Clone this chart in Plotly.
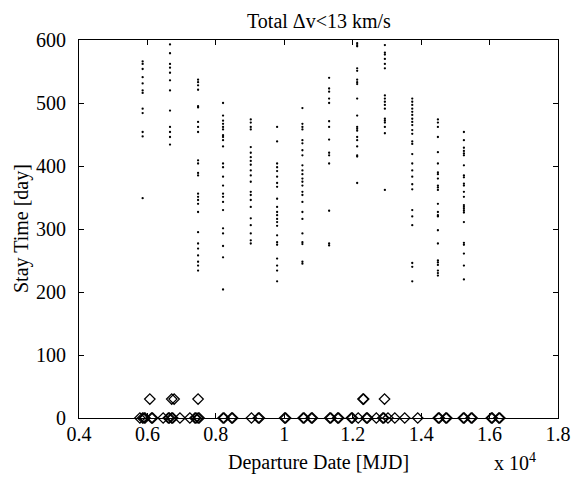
import plotly.graph_objects as go

# ---- data (departure date in units of 1e4 MJD, stay time in days) ----
col_x = [0.586, 0.666, 0.748, 0.821, 0.902, 0.979, 1.053, 1.131, 1.213, 1.294, 1.374, 1.449, 1.525]

col_stay = [
    [566, 562, 554, 541, 531, 520, 516, 491, 484, 454, 447, 349],
    [593, 579, 562, 556, 548, 536, 520, 488, 462, 454, 446, 434],
    [537, 533, 528, 521, 495, 493, 470, 462, 454, 409, 404, 389, 385, 356, 351, 346, 340,
     327, 295, 277, 269, 258, 248, 242, 234],
    [500, 480, 472, 467, 462, 458, 449, 446, 441, 431, 404, 398, 383, 369, 356, 351, 343,
     330, 301, 293, 273, 255, 204],
    [474, 469, 462, 458, 430, 421, 414, 408, 402, 393, 385, 375, 359, 354, 346, 335, 317,
     306, 293, 282, 277],
    [462, 439, 404, 398, 392, 383, 373, 367, 348, 335, 327, 322, 316, 311, 305, 290, 279,
     275, 253, 242, 234, 217],
    [492, 467, 462, 458, 441, 436, 425, 417, 401, 393, 387, 380, 375, 369, 359, 354, 343,
     327, 316, 293, 279, 276, 248, 245],
    [540, 523, 518, 507, 500, 471, 462, 442, 421, 417, 404, 329, 277, 274],
    [595, 592, 590, 555, 551, 537, 533, 530, 507, 480, 462, 459, 456, 446, 441, 431, 417,
     415, 373],
    [592, 580, 577, 570, 562, 555, 512, 507, 502, 497, 491, 475, 472, 469, 462, 452, 362],
    [507, 502, 497, 491, 486, 481, 475, 470, 465, 457, 451, 439, 435, 419, 404, 393, 383,
     371, 363, 330, 320, 306, 246, 240, 217],
    [474, 469, 462, 446, 422, 404, 390, 387, 380, 369, 366, 362, 340, 327, 322, 320, 298,
     277, 250, 247, 243, 234, 230, 226],
    [454, 441, 429, 424, 420, 417, 401, 385, 382, 372, 369, 359, 351, 338, 335, 332, 329,
     326, 311, 278, 275, 261, 242, 220],
]

# low-stay solutions (diamonds)
diam0_x = [0.578, 0.586, 0.590, 0.593, 0.612, 0.615, 0.646, 0.661, 0.664, 0.671, 0.674,
           0.695, 0.724, 0.739, 0.742, 0.748, 0.751, 0.821, 0.824, 0.846, 0.849, 0.904,
           0.924, 0.927, 1.001, 1.004, 1.055, 1.058, 1.079, 1.082, 1.133, 1.136, 1.156,
           1.159, 1.196, 1.199, 1.216, 1.240, 1.243, 1.269, 1.288, 1.291, 1.303, 1.323,
           1.352, 1.390, 1.450, 1.453, 1.472, 1.475, 1.523, 1.526, 1.546, 1.549, 1.605,
           1.608, 1.627, 1.630]
diam30_x = [0.607, 0.671, 0.678, 0.748, 1.230, 1.232, 1.293]
diam30_y = [30, 30, 30, 30, 30, 30, 30]

x_ticks = [0.4, 0.6, 0.8, 1.0, 1.2, 1.4, 1.6, 1.8]
x_tick_text = ["0.4", "0.6", "0.8", "1", "1.2", "1.4", "1.6", "1.8"]
y_ticks = [0, 100, 200, 300, 400, 500, 600]

dots_x, dots_y = [], []
for cx, ys in zip(col_x, col_stay):
    dots_x += [cx] * len(ys)
    dots_y += ys

font_family = "Liberation Serif, Times New Roman, serif"
FS = 20

fig = go.Figure()
fig.add_trace(go.Scatter(
    x=dots_x, y=dots_y, mode="markers",
    marker=dict(size=2.3, color="black"), showlegend=False, hoverinfo="x+y"))
fig.add_trace(go.Scatter(
    x=diam0_x, y=[0] * len(diam0_x), mode="markers", cliponaxis=False,
    marker=dict(symbol="diamond-open", size=8, color="black", line=dict(width=1.3)),
    showlegend=False))
fig.add_trace(go.Scatter(
    x=diam30_x, y=diam30_y, mode="markers", cliponaxis=False,
    marker=dict(symbol="diamond-open", size=8, color="black", line=dict(width=1.3)),
    showlegend=False))

axis_common = dict(
    showgrid=False, zeroline=False, showline=True, linecolor="black", linewidth=1,
    ticks="inside", ticklen=5, tickwidth=1, tickcolor="black", mirror="allticks",
    automargin=False,
    tickfont=dict(family=font_family, size=FS, color="black"),
)

fig.update_layout(
    width=571, height=478,
    margin=dict(l=79, r=13, t=40, b=60),
    paper_bgcolor="white", plot_bgcolor="white",
    xaxis=dict(range=[0.4, 1.8], tickvals=x_ticks, ticktext=x_tick_text,
               ticklabelstandoff=-2, **axis_common),
    yaxis=dict(range=[0, 600], tickvals=y_ticks, ticklabelstandoff=8, **axis_common),
    annotations=[
        dict(text="Total Δv<13 km/s", xref="paper", yref="paper", x=0.5, y=1,
             yshift=19, xanchor="center", yanchor="middle", showarrow=False,
             font=dict(family=font_family, size=FS, color="black")),
        dict(text="Departure Date [MJD]", xref="paper", yref="paper", x=0.5, y=0,
             yshift=-44, xanchor="center", yanchor="middle", showarrow=False,
             font=dict(family=font_family, size=FS, color="black")),
        dict(text="x 10<sup>4</sup>", xref="paper", yref="paper", x=0.862, y=0,
             yshift=-44, xanchor="left", yanchor="middle", showarrow=False,
             font=dict(family=font_family, size=FS, color="black")),
        dict(text="Stay Time [day]", xref="paper", yref="paper", x=0, y=0.5,
             xshift=-58, xanchor="center", yanchor="middle", textangle=-90,
             showarrow=False, font=dict(family=font_family, size=FS, color="black")),
    ],
)

fig.write_html("out.html", config={"displayModeBar": False},
               post_script="document.body.style.margin='0';document.body.style.overflow='hidden';")
